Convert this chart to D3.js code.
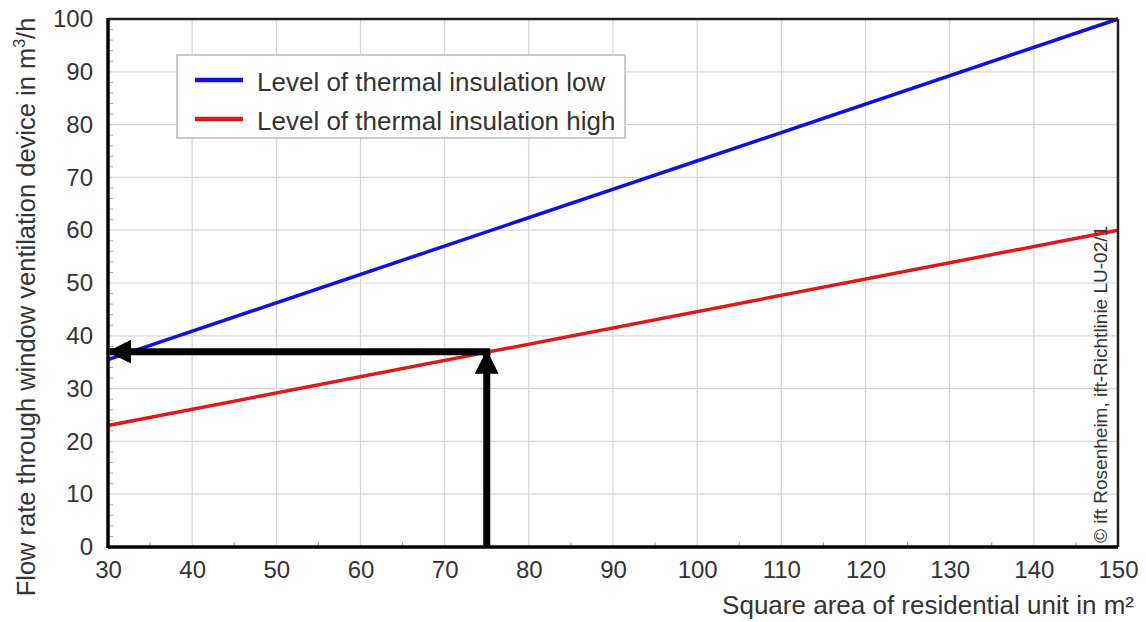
<!DOCTYPE html>
<html>
<head>
<meta charset="utf-8">
<script src="https://cdn.jsdelivr.net/npm/d3@7"></script>
<style>
  body { margin: 0; background: #fff; }
  text { font-family: "Liberation Sans", Arial, sans-serif; fill: #333; }
</style>
</head>
<body>
<svg id="chart" width="1146" height="622"></svg>
<script>
// data
const areaDomain = [30, 150];
const flowDomain = [0, 100];
const xTicks = [30, 40, 50, 60, 70, 80, 90, 100, 110, 120, 130, 140, 150];
const yTicks = [0, 10, 20, 30, 40, 50, 60, 70, 80, 90, 100];
const seriesNames = ['Level of thermal insulation low', 'Level of thermal insulation high'];
const seriesColors = ['#1010e0', '#e01818'];
const lowLine = [{ x: 30, y: 35.5 }, { x: 150, y: 100 }];
const highLine = [{ x: 30, y: 23 }, { x: 150, y: 60 }];
const exampleArea = 75;
const exampleFlow = 37;

const svg = d3.select('#chart');
const m = { left: 108, top: 19, right: 1118, bottom: 547 };

const x = d3.scaleLinear().domain(areaDomain).range([m.left, m.right]);
const y = d3.scaleLinear().domain(flowDomain).range([m.bottom, m.top]);

// grid
const grid = svg.append('g');
grid.selectAll('.gx').data(xTicks.slice(1, -1)).enter().append('line')
  .attr('x1', d => x(d)).attr('x2', d => x(d))
  .attr('y1', m.top).attr('y2', m.bottom)
  .attr('stroke', '#d4d4d4').attr('stroke-width', 1.2);
grid.selectAll('.gy').data(yTicks.slice(1, -1)).enter().append('line')
  .attr('y1', d => y(d)).attr('y2', d => y(d))
  .attr('x1', m.left).attr('x2', m.right)
  .attr('stroke', '#d4d4d4').attr('stroke-width', 1.2);

// minor ticks (inside)
const minorX = d3.range(35, 150, 10);
const minorY = d3.range(2, 100, 2).filter(v => v % 10 !== 0);
svg.append('g').selectAll('line').data(minorX).enter().append('line')
  .attr('x1', d => x(d)).attr('x2', d => x(d))
  .attr('y1', m.bottom).attr('y2', m.bottom - 5)
  .attr('stroke', '#999').attr('stroke-width', 1);
svg.append('g').selectAll('line').data(minorY).enter().append('line')
  .attr('y1', d => y(d)).attr('y2', d => y(d))
  .attr('x1', m.left).attr('x2', m.left + 5)
  .attr('stroke', '#aaa').attr('stroke-width', 1);

// axes labels via d3 axes
const xAxis = svg.append('g').attr('transform', `translate(0,${m.bottom})`)
  .call(d3.axisBottom(x).tickValues(xTicks).tickSize(0).tickPadding(14));
const yAxis = svg.append('g').attr('transform', `translate(${m.left},0)`)
  .call(d3.axisLeft(y).tickValues(yTicks).tickSize(0).tickPadding(15));
[xAxis, yAxis].forEach(a => {
  a.select('.domain').remove();
  a.selectAll('text').attr('font-size', 24).style('fill', '#333')
    .attr('font-family', '"Liberation Sans", Arial, sans-serif');
});

// data lines
const line = d3.line().x(d => x(d.x)).y(d => y(d.y));
svg.append('path').datum(lowLine).attr('d', line)
  .attr('fill', 'none').attr('stroke', seriesColors[0]).attr('stroke-width', 3.5);
svg.append('path').datum(highLine).attr('d', line)
  .attr('fill', 'none').attr('stroke', seriesColors[1]).attr('stroke-width', 3.5);

// frame
svg.append('line').attr('x1', m.left).attr('x2', m.right).attr('y1', m.top).attr('y2', m.top)
  .attr('stroke', '#222').attr('stroke-width', 2.5);
svg.append('line').attr('x1', m.right).attr('x2', m.right).attr('y1', m.top).attr('y2', m.bottom)
  .attr('stroke', '#222').attr('stroke-width', 2.5);
svg.append('line').attr('x1', m.left).attr('x2', m.right).attr('y1', m.bottom).attr('y2', m.bottom)
  .attr('stroke', '#000').attr('stroke-width', 3.5);
svg.append('line').attr('x1', m.left).attr('x2', m.left).attr('y1', m.top - 1).attr('y2', m.bottom + 1)
  .attr('stroke', '#000').attr('stroke-width', 3.5);

// example arrows
const defs = svg.append('defs');
defs.append('marker').attr('id', 'arrowhead')
  .attr('markerWidth', 3.4).attr('markerHeight', 3.4)
  .attr('refX', 3).attr('refY', 1.7).attr('orient', 'auto')
  .attr('markerUnits', 'strokeWidth')
  .append('polygon').attr('points', '0,0 3.4,1.7 0,3.4').attr('fill', '#000');

svg.append('line')
  .attr('x1', x(exampleArea)).attr('x2', x(exampleArea))
  .attr('y1', m.bottom).attr('y2', y(exampleFlow) + 1)
  .attr('stroke', '#000').attr('stroke-width', 7)
  .attr('marker-end', 'url(#arrowhead)');
svg.append('line')
  .attr('x1', x(exampleArea) + 3.5).attr('x2', x(areaDomain[0]) + 2)
  .attr('y1', y(exampleFlow)).attr('y2', y(exampleFlow))
  .attr('stroke', '#000').attr('stroke-width', 7)
  .attr('marker-end', 'url(#arrowhead)');

// legend
const lg = svg.append('g').attr('transform', 'translate(177,55)');
lg.append('rect').attr('width', 448).attr('height', 83)
  .attr('fill', '#fff').attr('stroke', '#bbb').attr('stroke-width', 1.5);
seriesNames.forEach((name, i) => {
  const yy = 25 + i * 39;
  lg.append('line').attr('x1', 18).attr('x2', 66).attr('y1', yy).attr('y2', yy)
    .attr('stroke', seriesColors[i]).attr('stroke-width', 4.5);
  lg.append('text').attr('x', 80).attr('y', yy + 11).attr('font-size', 26).text(name);
});

// axis titles
svg.append('text').attr('x', 1134).attr('y', 614).attr('text-anchor', 'end')
  .attr('font-size', 26).text('Square area of residential unit in m²');

const yt = svg.append('text')
  .attr('transform', 'translate(35,307) rotate(-90)')
  .attr('text-anchor', 'middle').attr('font-size', 25.5);
yt.append('tspan').text('Flow rate through window ventilation device in m');
yt.append('tspan').attr('dy', -10).attr('font-size', 16).text('3');
yt.append('tspan').attr('dy', 10).text('/h');

// copyright
svg.append('text')
  .attr('transform', 'translate(1107,543) rotate(-90)')
  .attr('font-size', 19).text('© ift Rosenheim, ift-Richtlinie LU-02/1');
</script>
</body>
</html>
